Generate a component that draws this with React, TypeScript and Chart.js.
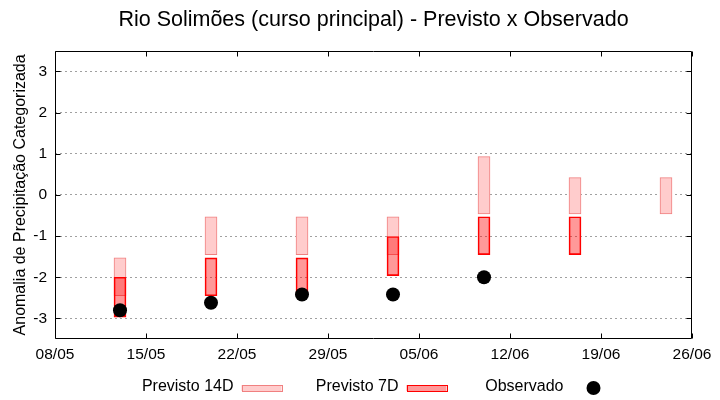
import React, { useEffect, useRef } from "react";
import { Chart, registerables } from "chart.js";

Chart.register(...registerables);

// ---- data ----
const baseDate = "08/05";
const xTickLabels = ["08/05", "15/05", "22/05", "29/05", "05/06", "12/06", "19/06", "26/06"];
const yTickValues = [-3, -2, -1, 0, 1, 2, 3];

const prev14Dates = ["13/05", "20/05", "27/05", "03/06", "10/06", "17/06", "24/06"];
const prev14Low = [-2.45, -1.45, -1.45, -1.45, -0.46, -0.46, -0.46];
const prev14High = [-1.53, -0.53, -0.53, -0.53, 0.93, 0.42, 0.42];

const prev7Dates = ["13/05", "20/05", "27/05", "03/06", "10/06", "17/06"];
const prev7Low = [-2.97, -2.45, -2.45, -1.96, -1.45, -1.45];
const prev7High = [-2.0, -1.53, -1.53, -1.01, -0.53, -0.53];

const obsDates = ["13/05", "20/05", "27/05", "03/06", "10/06"];
const obsValues = [-2.8, -2.62, -2.42, -2.42, -2.0];

const legendOrder = ["Previsto 14D", "Previsto 7D", "Observado"];
const titleText = "Rio Solimões (curso principal) - Previsto x Observado";
const yTitleText = "Anomalia de Precipitação Categorizada";

// ---- helpers ----
const FONT = '"Liberation Sans", Arial, sans-serif';
const toUTC = (s: string) => {
  const [d, m] = s.split("/").map(Number);
  return Date.UTC(2000, m - 1, d);
};
const dayOf = (s: string) => Math.round((toUTC(s) - toUTC(baseDate)) / 86400000);
const labelOf = (v: number) => {
  const found = xTickLabels.find((l) => dayOf(l) === v);
  return found ?? "";
};

const framePlugin = {
  id: "frameTicks",
  afterDatasetsDraw(chart: any) {
    const { ctx, chartArea } = chart;
    const l = Math.round(chartArea.left) + 0.5;
    const r = Math.round(chartArea.right) - 0.5;
    const t = Math.round(chartArea.top) + 0.5;
    const b = Math.round(chartArea.bottom) - 0.5;
    const tl = 5;
    ctx.save();
    ctx.strokeStyle = "#000";
    ctx.lineWidth = 1;
    ctx.beginPath();
    ctx.rect(l, t, r - l, b - t);
    const xs = chart.scales.x;
    xs.ticks.forEach((tk: any) => {
      const px = Math.round(xs.getPixelForValue(tk.value)) + 0.5;
      ctx.moveTo(px, b);
      ctx.lineTo(px, b - tl);
      ctx.moveTo(px, t);
      ctx.lineTo(px, t + tl);
    });
    const ys = chart.scales.y;
    ys.ticks.forEach((tk: any) => {
      const py = Math.round(ys.getPixelForValue(tk.value)) + 0.5;
      ctx.moveTo(l, py);
      ctx.lineTo(l + tl, py);
      ctx.moveTo(r, py);
      ctx.lineTo(r - tl, py);
    });
    ctx.stroke();
    ctx.restore();
  },
  afterDraw(chart: any) {
    const { ctx, chartArea } = chart;
    const cx = (chartArea.left + chartArea.right) / 2;
    const y = 388;
    ctx.save();
    ctx.font = `16px ${FONT}`;
    ctx.fillStyle = "#000";
    ctx.textAlign = "right";
    ctx.textBaseline = "middle";
    legendOrder.forEach((label, i) => {
      const ds = chart.data.datasets.find((d: any) => d.label === label);
      if (!ds) return;
      const textRight = cx - 140 + i * 165;
      ctx.fillStyle = "#000";
      ctx.fillText(label, textRight, y - 1);
      if (ds.type === "scatter") {
        ctx.beginPath();
        ctx.arc(textRight + 30, y, 7, 0, Math.PI * 2);
        ctx.fillStyle = ds.backgroundColor;
        ctx.fill();
      } else {
        const x0 = textRight + 8;
        ctx.fillStyle = ds.backgroundColor;
        ctx.fillRect(x0, y - 3, 40, 6);
        ctx.strokeStyle = ds.borderColor;
        ctx.lineWidth = 1;
        ctx.strokeRect(Math.round(x0) + 0.5, y - 3 + 0.5, 40, 6);
      }
    });
    ctx.restore();
  },
};

export default function App() {
  const ref = useRef<HTMLCanvasElement>(null);

  useEffect(() => {
    if (!ref.current) return;
    const tickFont = { family: FONT, size: 15.5, weight: "normal" as const };
    const chart = new Chart(ref.current, {
      type: "bar",
      data: {
        datasets: [
          {
            type: "scatter",
            label: "Observado",
            data: obsDates.map((d, i) => ({ x: dayOf(d), y: obsValues[i] })),
            backgroundColor: "#000000",
            borderColor: "#000000",
            borderWidth: 0,
            pointRadius: 7,
            pointHoverRadius: 7,
            order: 0,
          } as any,
          {
            type: "bar",
            label: "Previsto 7D",
            data: prev7Dates.map((d, i) => ({ x: dayOf(d), y: [prev7Low[i], prev7High[i]] })),
            backgroundColor: "rgba(255,0,0,0.4)",
            borderColor: "#ff0000",
            borderWidth: 1,
            borderSkipped: false,
            barThickness: 12,
            grouped: false,
            order: 1,
          } as any,
          {
            type: "bar",
            label: "Previsto 14D",
            data: prev14Dates.map((d, i) => ({ x: dayOf(d), y: [prev14Low[i], prev14High[i]] })),
            backgroundColor: "#ffcccc",
            borderColor: "#f08080",
            borderWidth: 1,
            borderSkipped: false,
            barThickness: 12,
            grouped: false,
            order: 2,
          } as any,
        ],
      },
      options: {
        animation: false,
        responsive: false,
        events: [],
        layout: { padding: { top: 0, right: 28, bottom: 0, left: 0 } },
        plugins: {
          legend: { display: false },
          tooltip: { enabled: false },
          title: {
            display: true,
            text: titleText,
            fullSize: false,
            color: "#000",
            font: { family: FONT, size: 21.5, weight: "normal", lineHeight: 1.2 },
            padding: { top: 7, bottom: 18 },
          },
        },
        scales: {
          x: {
            type: "linear",
            min: 0,
            max: dayOf(xTickLabels[xTickLabels.length - 1]),
            offset: false,
            afterBuildTicks: (s: any) => {
              s.ticks = xTickLabels.map((l) => ({ value: dayOf(l) }));
            },
            afterFit: (s: any) => {
              s.height = 61;
            },
            ticks: {
              callback: (v: any) => labelOf(Number(v)),
              color: "#000",
              font: tickFont,
              padding: 6,
              maxRotation: 0,
              autoSkip: false,
            },
            grid: { display: false, drawTicks: false },
            border: { display: false },
          },
          y: {
            type: "linear",
            min: -3.5,
            max: 3.5,
            afterBuildTicks: (s: any) => {
              s.ticks = yTickValues.map((v) => ({ value: v }));
            },
            afterFit: (s: any) => {
              s.width = 55;
            },
            ticks: { color: "#000", font: tickFont, padding: 8 },
            grid: { color: "#a0a0a0", lineWidth: 1, drawTicks: false },
            border: { display: false, dash: [2, 3] },
            title: {
              display: true,
              text: yTitleText,
              color: "#000",
              font: { family: FONT, size: 16, weight: "normal" },
              padding: { top: 11, bottom: 0 },
            },
          },
        },
      } as any,
      plugins: [framePlugin],
    });
    return () => chart.destroy();
  }, []);

  return (
    <div style={{ position: "fixed", left: 0, top: 0, width: 720, height: 400, background: "#fff" }}>
      <canvas ref={ref} width={720} height={400} style={{ display: "block", width: 720, height: 400 }} />
    </div>
  );
}
